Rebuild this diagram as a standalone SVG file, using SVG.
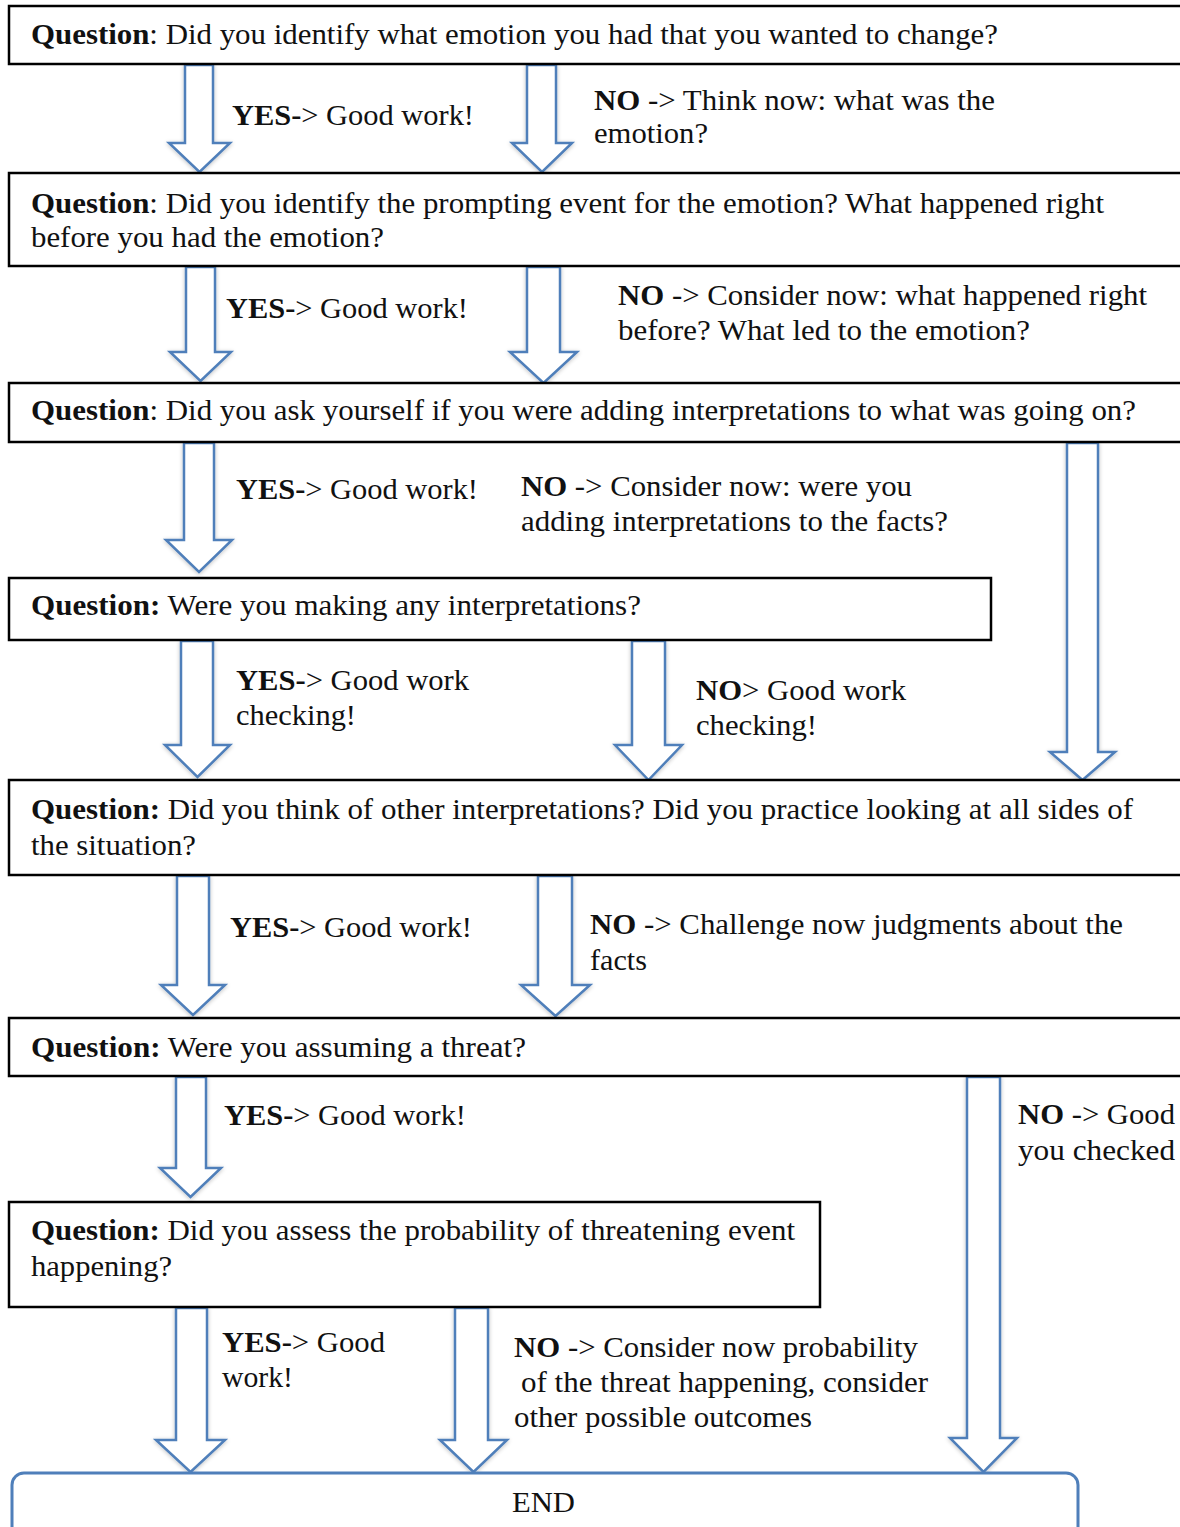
<svg xmlns="http://www.w3.org/2000/svg" width="1180" height="1527" viewBox="0 0 1180 1527">
  <style>
    .box { fill: #ffffff; stroke: #000000; stroke-width: 2.5; }
    .end { fill: #ffffff; stroke: #4f7fba; stroke-width: 3; }
    .arrow { fill: #ffffff; stroke: #4f7fba; stroke-width: 2.5; stroke-linejoin: miter; }
    text { font-family: "Liberation Serif", "Times New Roman", serif; font-size: 30px; fill: #111111; }
    .b { font-weight: bold; }
  </style>
  <defs>
    <filter id="glow" x="-30%" y="-5%" width="160%" height="110%">
      <feGaussianBlur in="SourceAlpha" stdDeviation="2" result="blur"/>
      <feOffset in="blur" dx="0" dy="1" result="off"/>
      <feComponentTransfer in="off" result="soft">
        <feFuncA type="linear" slope="0.25"/>
      </feComponentTransfer>
      <feMerge>
        <feMergeNode in="soft"/>
        <feMergeNode in="SourceGraphic"/>
      </feMerge>
    </filter>
  </defs>
  <rect width="1180" height="1527" fill="#ffffff"/>

  <!-- connectors: block arrows -->
  <g id="connectors" filter="url(#glow)">
    <path class="arrow" d="M185 65 H213 V143 H230 L199.5 172 L169 143 H185 Z"/>
    <path class="arrow" d="M527 65 H556 V143 H572 L542 172 L512 143 H527 Z"/>
    <path class="arrow" d="M186 267 H215 V352 H231 L200.5 381 L170 352 H186 Z"/>
    <path class="arrow" d="M527 267 H560 V352 H577 L543.5 383 L510 352 H527 Z"/>
    <path class="arrow" d="M184 443 H214 V540 H232 L199 572 L166 540 H184 Z"/>
    <path class="arrow" d="M1067 443 H1098 V752 H1115 L1082.5 780 L1050 752 H1067 Z"/>
    <path class="arrow" d="M181 641 H213 V745 H230 L197.5 777 L165 745 H181 Z"/>
    <path class="arrow" d="M632 641 H665 V745 H682 L648.5 780 L615 745 H632 Z"/>
    <path class="arrow" d="M177 876 H209 V985 H225 L193 1015 L161 985 H177 Z"/>
    <path class="arrow" d="M538 876 H572 V985 H590 L555.5 1016 L521 985 H538 Z"/>
    <path class="arrow" d="M176 1077 H206 V1168 H221 L190.5 1197 L160 1168 H176 Z"/>
    <path class="arrow" d="M967 1077 H1000 V1438 H1017 L983.5 1472 L950 1438 H967 Z"/>
    <path class="arrow" d="M176 1308 H207 V1440 H225 L190.5 1472 L156 1440 H176 Z"/>
    <path class="arrow" d="M455 1308 H488 V1440 H507 L473.5 1472 L440 1440 H455 Z"/>
  </g>

  <!-- connector labels -->
  <g id="labels" lengthAdjust="spacingAndGlyphs">
    <text x="232" y="125" textLength="242" lengthAdjust="spacingAndGlyphs"><tspan class="b">YES-</tspan>&gt; Good work!</text>
    <text x="594" y="110" textLength="401" lengthAdjust="spacingAndGlyphs"><tspan class="b">NO</tspan> -&gt; Think now: what was the</text>
    <text x="594" y="143" textLength="114" lengthAdjust="spacingAndGlyphs">emotion?</text>

    <text x="226" y="318" textLength="242" lengthAdjust="spacingAndGlyphs"><tspan class="b">YES-</tspan>&gt; Good work!</text>
    <text x="618" y="305" textLength="529" lengthAdjust="spacingAndGlyphs"><tspan class="b">NO</tspan> -&gt; Consider now: what happened right</text>
    <text x="618" y="340" textLength="412" lengthAdjust="spacingAndGlyphs">before? What led to the emotion?</text>

    <text x="236" y="499" textLength="242" lengthAdjust="spacingAndGlyphs"><tspan class="b">YES-</tspan>&gt; Good work!</text>
    <text x="521" y="496" textLength="391" lengthAdjust="spacingAndGlyphs"><tspan class="b">NO</tspan> -&gt; Consider now: were you</text>
    <text x="521" y="531" textLength="427" lengthAdjust="spacingAndGlyphs">adding interpretations to the facts?</text>

    <text x="236" y="690" textLength="233" lengthAdjust="spacingAndGlyphs"><tspan class="b">YES-</tspan>&gt; Good work</text>
    <text x="236" y="725" textLength="120" lengthAdjust="spacingAndGlyphs">checking!</text>
    <text x="696" y="700" textLength="210" lengthAdjust="spacingAndGlyphs"><tspan class="b">NO</tspan>&gt; Good work</text>
    <text x="696" y="735" textLength="121" lengthAdjust="spacingAndGlyphs">checking!</text>

    <text x="230" y="937" textLength="242" lengthAdjust="spacingAndGlyphs"><tspan class="b">YES-</tspan>&gt; Good work!</text>
    <text x="590" y="934" textLength="533" lengthAdjust="spacingAndGlyphs"><tspan class="b">NO</tspan> -&gt; Challenge now judgments about the</text>
    <text x="590" y="970" textLength="57" lengthAdjust="spacingAndGlyphs">facts</text>

    <text x="224" y="1125" textLength="242" lengthAdjust="spacingAndGlyphs"><tspan class="b">YES-</tspan>&gt; Good work!</text>
    <text x="1018" y="1124" textLength="157" lengthAdjust="spacingAndGlyphs"><tspan class="b">NO</tspan> -&gt; Good</text>
    <text x="1018" y="1160" textLength="157" lengthAdjust="spacingAndGlyphs">you checked</text>

    <text x="222" y="1352" textLength="163" lengthAdjust="spacingAndGlyphs"><tspan class="b">YES-</tspan>&gt; Good</text>
    <text x="222" y="1387" textLength="71" lengthAdjust="spacingAndGlyphs">work!</text>
    <text x="514" y="1357" textLength="404" lengthAdjust="spacingAndGlyphs"><tspan class="b">NO</tspan> -&gt; Consider now probability</text>
    <text x="521" y="1392" textLength="407" lengthAdjust="spacingAndGlyphs">of the threat happening, consider</text>
    <text x="514" y="1427" textLength="298" lengthAdjust="spacingAndGlyphs">other possible outcomes</text>
  </g>

  <!-- question boxes -->
  <g id="q1">
    <rect class="box" x="9" y="6" width="1185" height="58"/>
    <text x="31" y="44" textLength="967" lengthAdjust="spacingAndGlyphs"><tspan class="b">Question</tspan>: Did you identify what emotion you had that you wanted to change?</text>
  </g>
  <g id="q2">
    <rect class="box" x="9" y="173" width="1185" height="93"/>
    <text x="31" y="213" textLength="1073" lengthAdjust="spacingAndGlyphs"><tspan class="b">Question</tspan>: Did you identify the prompting event for the emotion? What happened right</text>
    <text x="31" y="247" textLength="353" lengthAdjust="spacingAndGlyphs">before you had the emotion?</text>
  </g>
  <g id="q3">
    <rect class="box" x="9" y="383" width="1185" height="59"/>
    <text x="31" y="420" textLength="1105" lengthAdjust="spacingAndGlyphs"><tspan class="b">Question</tspan>: Did you ask yourself if you were adding interpretations to what was going on?</text>
  </g>
  <g id="q4">
    <rect class="box" x="9" y="578" width="982" height="62"/>
    <text x="31" y="615" textLength="610" lengthAdjust="spacingAndGlyphs"><tspan class="b">Question:</tspan> Were you making any interpretations?</text>
  </g>
  <g id="q5">
    <rect class="box" x="9" y="780" width="1185" height="95"/>
    <text x="31" y="819" textLength="1102" lengthAdjust="spacingAndGlyphs"><tspan class="b">Question:</tspan> Did you think of other interpretations? Did you practice looking at all sides of</text>
    <text x="31" y="855" textLength="165" lengthAdjust="spacingAndGlyphs">the situation?</text>
  </g>
  <g id="q6">
    <rect class="box" x="9" y="1018" width="1185" height="58"/>
    <text x="31" y="1057" textLength="495" lengthAdjust="spacingAndGlyphs"><tspan class="b">Question:</tspan> Were you assuming a threat?</text>
  </g>
  <g id="q7">
    <rect class="box" x="9" y="1202" width="811" height="105"/>
    <text x="31" y="1240" textLength="764" lengthAdjust="spacingAndGlyphs"><tspan class="b">Question:</tspan> Did you assess the probability of threatening event</text>
    <text x="31" y="1276" textLength="141" lengthAdjust="spacingAndGlyphs">happening?</text>
  </g>
  <g id="end">
    <rect class="end" x="12" y="1473" width="1066" height="70" rx="12"/>
    <text x="512" y="1512" textLength="63" lengthAdjust="spacingAndGlyphs">END</text>
  </g>
</svg>
